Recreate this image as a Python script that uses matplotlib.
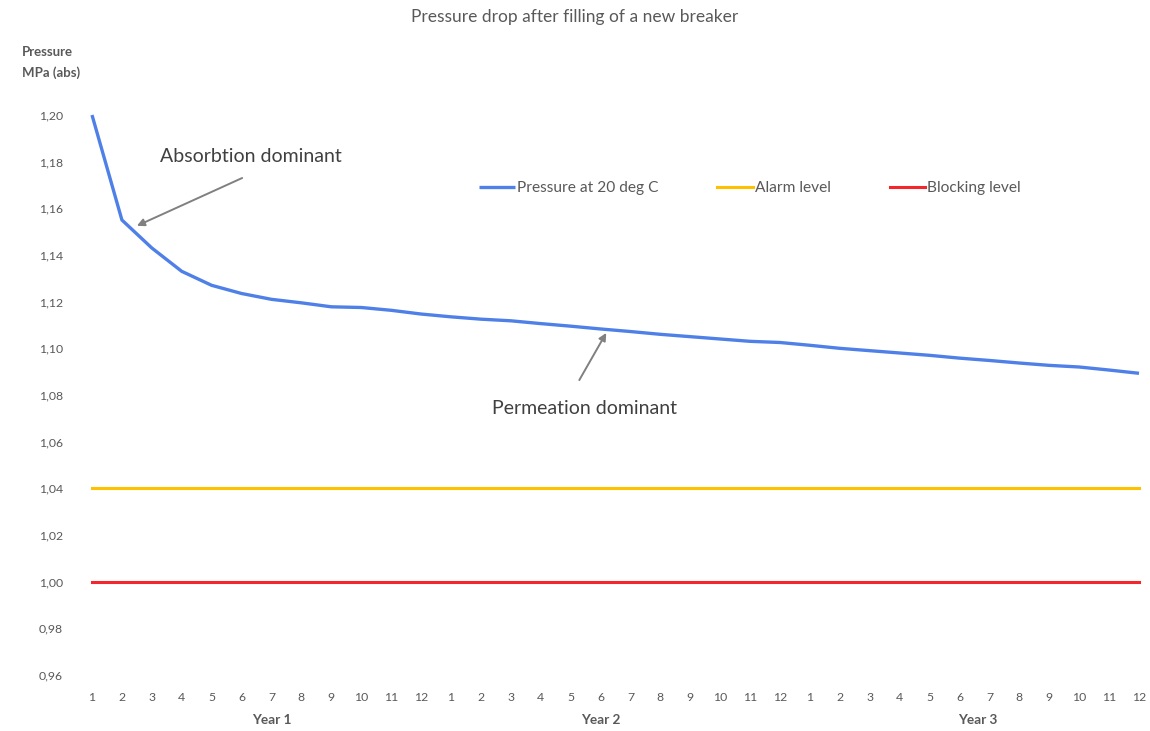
import matplotlib
matplotlib.use("Agg")
import matplotlib.pyplot as plt

plt.rcParams['font.family'] = ['Lato', 'DejaVu Sans']

months = [str(m) for m in range(1, 13)] * 3
years = ["Year 1", "Year 2", "Year 3"]
pressure = [1.200, 1.155, 1.143, 1.133, 1.127, 1.1235, 1.121, 1.1195, 1.1178, 1.1175, 1.1163, 1.1147,
            1.1135, 1.1125, 1.1118, 1.1106, 1.1095, 1.1083, 1.1072, 1.106, 1.105, 1.104, 1.103, 1.1025,
            1.1013, 1.1000, 1.0990, 1.0980, 1.0970, 1.0958, 1.0948, 1.0937, 1.0927, 1.0920, 1.0907, 1.0893]
alarm = [1.04] * 36
blocking = [1.00] * 36
yticks = [0.96, 0.98, 1.00, 1.02, 1.04, 1.06, 1.08, 1.10, 1.12, 1.14, 1.16, 1.18, 1.20]

gray = '#595959'
W, H = 1150, 731
fig = plt.figure(figsize=(W / 100, H / 100), dpi=100)
ax = fig.add_axes([92 / W, (H - 675) / H, (1139 - 92) / W, (675 - 115) / H])

x = list(range(len(pressure)))
ax.plot(x, pressure, color='#4F80E8', lw=2.4, label='Pressure at 20 deg C', clip_on=False, solid_capstyle='butt')
ax.plot(x, alarm, color='#FFC000', lw=2.2, label='Alarm level', clip_on=False)
ax.plot(x, blocking, color='#F5262B', lw=2.2, label='Blocking level', clip_on=False)

ax.set_xlim(0, 35)
ax.set_ylim(0.96, 1.20)
for s in ax.spines.values():
    s.set_visible(False)
ax.set_yticks(yticks)
ax.set_yticklabels([f"{v:.2f}".replace('.', ',') for v in yticks], color=gray, fontsize=8.8)
ax.set_xticks(x)
ax.set_xticklabels(months, color=gray, fontsize=8.8)
ax.tick_params(axis='both', length=0)
ax.tick_params(axis='y', pad=21)
ax.tick_params(axis='x', pad=12)

for pos, yr in zip([6.0, 17.0, 29.6], years):
    ax.text(pos, -0.08, yr, transform=ax.get_xaxis_transform(), ha='center', va='center',
            fontsize=9.8, fontweight='bold', color=gray)

fig.text(575 / W, 1 - 17 / H, 'Pressure drop after filling of a new breaker', ha='center', va='center',
         fontsize=12.5, color=gray)
fig.text(22 / W, 1 - 52 / H, 'Pressure', ha='left', va='center', fontsize=9.5, fontweight='bold', color=gray)
fig.text(22 / W, 1 - 73 / H, 'MPa (abs)', ha='left', va='center', fontsize=9.5, fontweight='bold', color=gray)

arrow = dict(arrowstyle='-|>', color='#808080', lw=1.4, mutation_scale=11, shrinkA=0, shrinkB=0)
ax.text(5.32, 1.182, 'Absorbtion dominant', ha='center', va='center', fontsize=14, color='#404040')
ax.annotate('', xy=(1.5, 1.1525), xytext=(5.02, 1.173), arrowprops=arrow)
ax.text(16.45, 1.074, 'Permeation dominant', ha='center', va='center', fontsize=14, color='#404040')
ax.annotate('', xy=(17.19, 1.1066), xytext=(16.29, 1.0864), arrowprops=arrow)

leg = ax.legend(loc='center', bbox_to_anchor=((750 - 92) / (1139 - 92), (675 - 188) / (675 - 115)),
                ncol=3, frameon=False, fontsize=11.2, handlelength=2.3, handletextpad=0.1,
                columnspacing=3.8)
for t in leg.get_texts():
    t.set_color(gray)

fig.savefig('out.png', dpi=100, facecolor='white')
